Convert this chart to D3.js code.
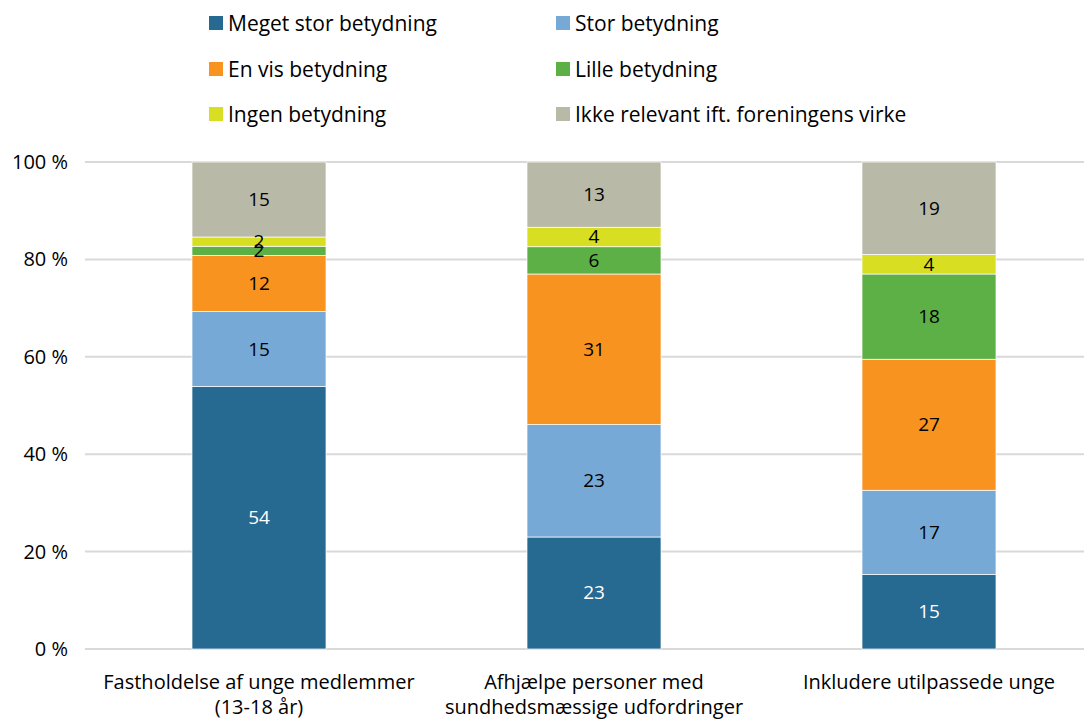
<!DOCTYPE html>
<html>
<head>
<meta charset="utf-8">
<script src="https://cdn.jsdelivr.net/npm/d3@7"></script>
<style>
  body { margin: 0; background: #fff; }
  svg text { font-family: "Open Sans", "Noto Sans", sans-serif; fill: #000; }
</style>
</head>
<body>
<div id="chart"></div>
<script>
var width = 1084;
var height = 720;

// categories (x axis), two lines each
var categories = [
    ["Fastholdelse af unge medlemmer", "(13-18 år)"],
    ["Afhjælpe personer med", "sundhedsmæssige udfordringer"],
    ["Inkludere utilpassede unge"]
];

var seriesNames = [
    "Meget stor betydning",
    "Stor betydning",
    "En vis betydning",
    "Lille betydning",
    "Ingen betydning",
    "Ikke relevant ift. foreningens virke"
];

var seriesColors = ["#266991", "#77a9d7", "#f7931e", "#5cb046", "#d8de22", "#b8b9a7"];
var labelColors = ["#fff", "#000", "#000", "#000", "#000", "#000"];

// percent per category, one array per series
var megetStor = [53.9, 23.0, 15.3];
var stor = [15.4, 23.1, 17.3];
var enVis = [11.5, 30.9, 26.9];
var lille = [1.9, 5.6, 17.5];
var ingen = [1.9, 4.0, 4.0];
var ikkeRelevant = [15.4, 13.4, 19.0];

var yTicks = [0, 20, 40, 60, 80, 100];

var series = [megetStor, stor, enVis, lille, ingen, ikkeRelevant];

var margin = {left: 91.5, right: -12.5, top: 162, bottom: 71};

var svgCanvas = d3.select("#chart")
    .append("svg")
    .attr("width", width)
    .attr("height", height);

var xScale = d3.scaleBand()
    .domain(d3.range(categories.length))
    .range([margin.left, width - margin.right])
    .paddingInner(0.6)
    .paddingOuter(0.3);

var yScale = d3.scaleLinear()
    .domain([0, 100])
    .range([height - margin.bottom, margin.top]);

// gridlines
svgCanvas.append("g")
    .selectAll("line")
    .data(yTicks)
    .enter()
    .append("line")
    .attr("x1", 85)
    .attr("x2", width)
    .attr("y1", function(d) { return yScale(d); })
    .attr("y2", function(d) { return yScale(d); })
    .attr("stroke", "#d9d9d9")
    .attr("stroke-width", 2);

// y labels
svgCanvas.append("g")
    .selectAll("text")
    .data(yTicks)
    .enter()
    .append("text")
    .attr("x", 68)
    .attr("y", function(d) { return yScale(d) + 7; })
    .attr("text-anchor", "end")
    .style("font-size", "20px")
    .text(function(d) { return d + " %"; });

// stacked data
var rows = categories.map(function(c, i) {
    var r = {};
    series.forEach(function(s, k) { r[k] = s[i]; });
    return r;
});
var stacked = d3.stack().keys(d3.range(series.length))(rows);

var layers = svgCanvas.append("g")
    .selectAll("g")
    .data(stacked)
    .enter()
    .append("g")
    .attr("fill", function(d, k) { return seriesColors[k]; });

layers.selectAll("rect")
    .data(function(d) { return d; })
    .enter()
    .append("rect")
    .attr("x", function(d, i) { return xScale(i); })
    .attr("width", xScale.bandwidth())
    .attr("y", function(d) { return yScale(d[1]); })
    .attr("height", function(d) { return yScale(d[0]) - yScale(d[1]); })
    .attr("stroke", "#fff")
    .attr("stroke-width", 0.7);

// value labels
stacked.forEach(function(layer, k) {
    svgCanvas.append("g")
        .selectAll("text")
        .data(layer)
        .enter()
        .append("text")
        .attr("x", function(d, i) { return xScale(i) + xScale.bandwidth() / 2; })
        .attr("y", function(d) { return (yScale(d[0]) + yScale(d[1])) / 2 + 6.5; })
        .attr("text-anchor", "middle")
        .style("font-size", "19px")
        .style("fill", labelColors[k])
        .text(function(d) { return Math.round(d[1] - d[0]); });
});

// category labels
categories.forEach(function(lines, i) {
    var t = svgCanvas.append("text")
        .attr("text-anchor", "middle")
        .style("font-size", "20px");
    lines.forEach(function(line, j) {
        t.append("tspan")
            .attr("x", xScale(i) + xScale.bandwidth() / 2)
            .attr("y", 689 + j * 25)
            .text(line);
    });
});

// legend
var legendX = [209, 556];
var legendY = [23, 69, 114];
var legend = svgCanvas.append("g")
    .selectAll("g")
    .data(seriesNames)
    .enter()
    .append("g")
    .attr("transform", function(d, k) {
        return "translate(" + legendX[k % 2] + "," + legendY[Math.floor(k / 2)] + ")";
    });

legend.append("rect")
    .attr("x", 0)
    .attr("y", -7)
    .attr("width", 14)
    .attr("height", 14)
    .attr("fill", function(d, k) { return seriesColors[k]; });

legend.append("text")
    .attr("x", 19)
    .attr("y", 7.5)
    .style("font-size", "21px")
    .text(function(d) { return d; });
</script>
</body>
</html>
